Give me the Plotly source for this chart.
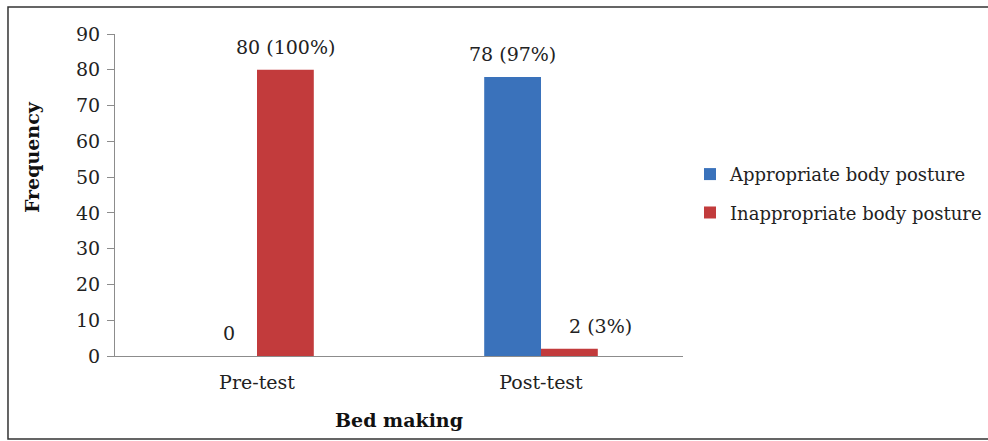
import plotly.graph_objects as go

categories = ["Pre-test", "Post-test"]
series_names = ["Appropriate body posture", "Inappropriate body posture"]
appropriate = [0, 78]
inappropriate = [80, 2]
appropriate_labels = ["0", "78 (97%)"]
inappropriate_labels = ["80 (100%)", "2 (3%)"]
y_ticks = [0, 10, 20, 30, 40, 50, 60, 70, 80, 90]

FONT = "DejaVu Serif"
FS = 19
BLUE = "#3a72bb"
RED = "#c23b3c"
# label nudges (pixels) for the second series' labels, as in the original layout
red_label_nudge = [0, 31]

fig = go.Figure()
fig.add_trace(go.Bar(x=categories, y=appropriate, name=series_names[0],
                     marker=dict(color=BLUE, line=dict(width=0)),
                     legendgroup="a"))
fig.add_trace(go.Bar(x=categories, y=inappropriate, name=series_names[1],
                     marker=dict(color=RED, line=dict(width=0)),
                     legendgroup="b"))

annotations = []
for cat, v, lab in zip(categories, appropriate, appropriate_labels):
    annotations.append(dict(x=cat, y=v, text=lab, showarrow=False, xshift=-28.5, yshift=23,
                            yanchor="middle", font=dict(family=FONT, size=FS, color="#222")))
for cat, v, lab, nd in zip(categories, inappropriate, inappropriate_labels, red_label_nudge):
    annotations.append(dict(x=cat, y=v, text=lab, showarrow=False, xshift=28.5 + nd, yshift=23,
                            yanchor="middle", font=dict(family=FONT, size=FS, color="#222")))
annotations.append(dict(xref="paper", yref="paper", x=-0.146, y=0.618, text="<b>Frequency</b>",
                        textangle=-90, showarrow=False, xanchor="center", yanchor="middle",
                        font=dict(family=FONT, size=FS, color="#111")))
annotations.append(dict(xref="paper", yref="paper", x=0.5, y=-0.199, text="<b>Bed making</b>",
                        showarrow=False, xanchor="center", yanchor="middle",
                        font=dict(family=FONT, size=FS, color="#111")))

fig.update_layout(
    width=988, height=441,
    margin=dict(l=115, r=305, t=34, b=85, autoexpand=False),
    paper_bgcolor="white", plot_bgcolor="white",
    barmode="group", bargap=0.6, bargroupgap=0,
    font=dict(family=FONT, size=FS, color="#222"),
    showlegend=True,
    legend=dict(x=1.0123, y=0.505, xanchor="left", yanchor="middle",
                traceorder="grouped", tracegroupgap=12,
                font=dict(family=FONT, size=18, color="#222"),
                bgcolor="rgba(0,0,0,0)"),
    annotations=annotations,
    shapes=[dict(type="rect", xref="paper", yref="paper",
                 x0=-0.1884, x1=1.545, y0=-0.258, y1=1.0839,
                 line=dict(color="#333", width=1.5), fillcolor="rgba(0,0,0,0)", layer="below")],
)
fig.update_xaxes(showline=True, linecolor="#8c8c8c", linewidth=1.2, showgrid=False,
                 ticks="", ticklabelstandoff=9, zeroline=False)
fig.update_yaxes(range=[0, 90], tickvals=y_ticks, showline=True, linecolor="#8c8c8c", linewidth=1.2,
                 ticks="outside", ticklen=7, tickcolor="#8c8c8c", showgrid=False, zeroline=False,
                 ticklabelstandoff=3)

fig.write_html("out.html")
